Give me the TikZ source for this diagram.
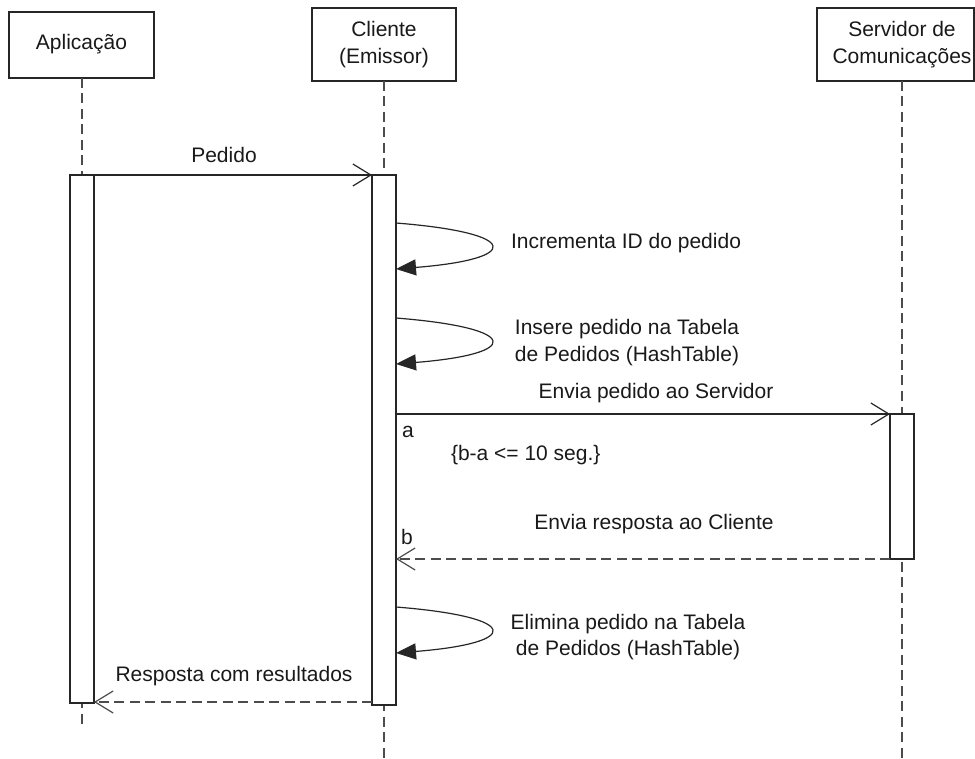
\documentclass[tikz,border=0pt]{standalone}
\usepackage{fontspec}
\setmainfont{Liberation Sans}
\usetikzlibrary{arrows.meta}
\begin{document}
\begin{tikzpicture}[x=1pt,y=-1pt,
  every node/.style={inner sep=0pt, outer sep=0pt},
  lbl/.style={font=\fontsize{21}{27}\selectfont, text=black!90},
  actorbox/.style={draw=black!85, line width=1.3pt, fill=white, rectangle},
  lifeline/.style={draw=black!70, line width=1.7pt, dash pattern=on 10pt off 5.5pt},
  actbar/.style={draw=black!85, line width=1.3pt, fill=white, rectangle, minimum width=24pt},
  callmsg/.style={draw=black!85, line width=1.2pt, -{Straight Barb[length=18pt,width=22pt,line width=1.2pt]}},
  replymsg/.style={draw=black!70, line width=1.6pt, dash pattern=on 10pt off 5.5pt,
    -{Straight Barb[length=18pt,width=22pt,line width=1.2pt,sep=0pt]}},
  selfmsg/.style={draw=black!85, line width=1.2pt, -{Triangle[length=20pt,width=16pt]}}
]
\useasboundingbox (0,0) rectangle (975,759);

% actor heads
\node[actorbox, minimum width=145pt, minimum height=66pt] (app) at (81.5,45) {};
\node[actorbox, minimum width=144pt, minimum height=73pt] (cli) at (384,44.5) {};
\node[actorbox, minimum width=157pt, minimum height=73pt] (srv) at (895.5,44.5) {};
\node[lbl] (appT) at (81.5,44) {Aplicação};
\node[lbl, align=center] (cliT) at (384,45) {Cliente\\(Emissor)};
\node[lbl, align=center] (srvT) at (902,45) {Servidor de\\Comunicações};

% lifelines
\coordinate (appEnd) at (82,727);
\coordinate (cliEnd) at (384,759);
\coordinate (srvEnd) at (902,759);
\draw[lifeline] (app.south -| appEnd) -- (appEnd);
\draw[lifeline] (cli.south) -- (cliEnd);
\draw[lifeline] (srvT.center |- srv.south) -- (srvEnd);

% activation bars
\node[actbar, minimum height=528pt] (appBar) at (82,439) {};
\node[actbar, minimum height=530pt] (cliBar) at (384,440) {};
\node[actbar, minimum height=145pt] (srvBar) at (902,486.5) {};

% message end points
\coordinate (m1a) at (94,175);
\coordinate (m1b) at (372,175);
\coordinate (s1a) at (396,223);
\coordinate (s1b) at (396,269);
\coordinate (s2a) at (396,318);
\coordinate (s2b) at (396,364);
\coordinate (m2a) at (396,414);
\coordinate (m2b) at (890,414);
\coordinate (m3a) at (890,559);
\coordinate (m3b) at (396,559);
\coordinate (s3a) at (396,607);
\coordinate (s3b) at (396,653);
\coordinate (m4a) at (372,702);
\coordinate (m4b) at (94,702);

% messages
\draw[callmsg] (m1a) -- (m1b);
\draw[selfmsg] (s1a) .. controls (522,233) and (522,259) .. (s1b);
\draw[selfmsg] (s2a) .. controls (522,328) and (522,354) .. (s2b);
\draw[callmsg] (m2a) -- (m2b);
\draw[replymsg] (m3a) -- (m3b);
\draw[selfmsg] (s3a) .. controls (522,617) and (522,643) .. (s3b);
\draw[replymsg] (m4a) -- (m4b);

% labels
\node[lbl, anchor=base] (l1) at (224,163) {Pedido};
\node[lbl, anchor=base west] (l2) at (511,249) {Incrementa ID do pedido};
\node[lbl, anchor=base] (l3a) at (627,335) {Insere pedido na Tabela};
\node[lbl, anchor=base] (l3b) at (627,362) {de Pedidos (HashTable)};
\node[lbl, anchor=base] (l4) at (656,399) {Envia pedido ao Servidor};
\node[lbl, anchor=base west] (la) at (402,437) {a};
\node[lbl, anchor=base west] (lc) at (451,460) {\{b-a <= 10 seg.\}};
\node[lbl, anchor=base] (l5) at (654,529) {Envia resposta ao Cliente};
\node[lbl, anchor=base west] (lb) at (401,544) {b};
\node[lbl, anchor=base] (l6a) at (628,629) {Elimina pedido na Tabela};
\node[lbl, anchor=base] (l6b) at (628,655) {de Pedidos (HashTable)};
\node[lbl, anchor=base] (l7) at (234,681) {Resposta com resultados};
\end{tikzpicture}
\end{document}
